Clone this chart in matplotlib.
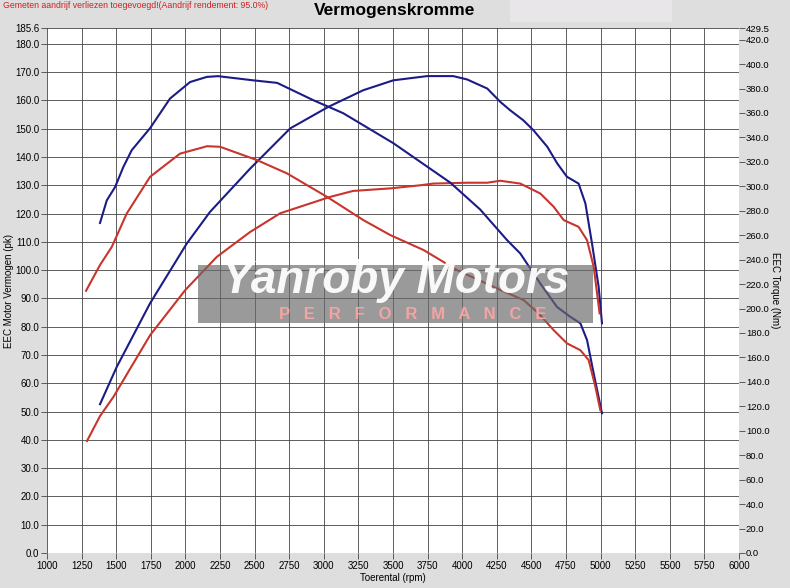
import matplotlib
matplotlib.use("Agg")
import matplotlib.pyplot as plt
from matplotlib.patches import Rectangle

plt.rcParams['font.family'] = ['Liberation Sans', 'DejaVu Sans']

# vermogen (pk), blauw = hoogste curve
rpm_pk_blue = [1383, 1504, 1745, 2010, 2178, 2468, 2757, 3032, 3285, 3502, 3747, 3935,
               4036, 4181, 4275, 4347, 4441, 4514, 4615, 4687, 4757, 4841, 4890, 4938,
               4986, 5010]
pk_blue = [52.6, 65.8, 88.3, 109.4, 120.6, 135.9, 150.1, 157.7, 163.6, 167.1, 168.6, 168.6,
           167.4, 164.2, 159.5, 156.5, 153.0, 149.5, 143.6, 137.7, 133.0, 130.6, 123.6, 109.4,
           94.1, 81.2]

rpm_pk_red = [1289, 1383, 1480, 1745, 1998, 2227, 2468, 2685, 3046, 3212, 3480, 3697,
              3791, 4036, 4181, 4275, 4420, 4564, 4661, 4733, 4841, 4902, 4950, 4993]
pk_red = [39.6, 48.4, 55.2, 77.0, 92.9, 104.7, 113.5, 120.1, 125.9, 128.0, 128.9, 130.0,
          130.6, 130.9, 130.9, 131.6, 130.6, 127.1, 122.4, 117.7, 115.3, 110.6, 101.2, 84.7]

# koppel (Nm)
rpm_nm_blue = [1383, 1432, 1492, 1552, 1612, 1745, 1889, 2034, 2155, 2236, 2489, 2663, 2923,
               3140, 3502, 3697, 3914, 4130, 4324, 4420, 4564, 4685, 4781, 4854, 4902, 4950,
               5010]
nm_blue = [270.0, 288.5, 299.4, 315.9, 329.5, 347.6, 371.8, 385.3, 389.5, 390.1, 386.7, 384.6,
           370.5, 359.8, 335.3, 320.0, 303.0, 281.0, 256.0, 245.0, 220.5, 201.3, 193.2, 187.9,
           174.2, 146.9, 114.3]

rpm_nm_red = [1282, 1383, 1468, 1576, 1745, 1961, 2157, 2251, 2518, 2735, 3024, 3285,
              3480, 3722, 3963, 4252, 4444, 4552, 4661, 4757, 4854, 4914, 4962, 4998]
nm_red = [214.5, 235.6, 250.4, 277.7, 307.8, 326.7, 332.8, 332.3, 321.4, 310.5, 291.3, 272.4,
          260.1, 247.8, 231.4, 216.4, 206.9, 196.0, 182.3, 171.5, 165.9, 157.8, 136.1, 116.9]

x_ticks = list(range(1000, 6001, 250))
left_ticks = [i * 10.0 for i in range(19)] + [185.6]
right_ticks = [i * 20.0 for i in range(22)] + [429.5]

blue = '#1c1c86'
red = '#c8352c'
k = 429.5 / 185.6  # pk-schaal naar Nm-schaal

fig = plt.figure(figsize=(7.9, 5.88), dpi=100, facecolor='#dedede')
ax = fig.add_axes([47 / 790, 35 / 588, 692 / 790, 525 / 588])
ax.set_facecolor('white')
ax2 = ax.twinx()

ax.set_xlim(1000, 6000)
ax.set_ylim(0, 185.6)
ax2.set_ylim(0, 429.5)

ax.set_xticks(x_ticks)
ax.set_yticks(left_ticks)
ax.set_yticklabels(['%.1f' % v for v in left_ticks])
ax2.set_yticks(right_ticks)
ax2.set_yticklabels(['%.1f' % v for v in right_ticks])

ax.grid(True, color='#444444', linewidth=0.6)
ax.set_axisbelow(True)
for a in (ax, ax2):
    for s in a.spines.values():
        s.set_visible(False)
    a.tick_params(labelsize=7, length=4.5, width=0.6, color='#444444', pad=1)
ax2.tick_params(length=4, labelsize=6.8)

ax.plot(rpm_pk_blue, pk_blue, color=blue, lw=1.5, solid_joinstyle='round')
ax.plot(rpm_pk_red, pk_red, color=red, lw=1.5, solid_joinstyle='round')
ax2.plot(rpm_nm_blue, nm_blue, color=blue, lw=1.5, solid_joinstyle='round')
ax2.plot(rpm_nm_red, nm_red, color=red, lw=1.5, solid_joinstyle='round')

ax.set_xlabel('Toerental (rpm)', fontsize=7, labelpad=2)
ax.set_ylabel('EEC Motor Vermogen (pk)', fontsize=7, va='center')
ax.yaxis.set_label_coords(-38 / 692, 0.5)
ax2.set_ylabel('EEC Torque (Nm)', fontsize=7, rotation=-90, va='center')
ax2.yaxis.set_label_coords(1 + 36 / 692, 0.5)

# watermerk
ax2.add_patch(Rectangle((2092, 81.3 * k), 4948 - 2092, 20.5 * k,
                        facecolor='#6a6a6a', alpha=0.68, edgecolor='none', zorder=5))
ax2.text(3520, 96.3 * k, 'Yanroby Motors', color='white', fontsize=33,
         fontweight='bold', fontstyle='italic', ha='center', va='center', zorder=6, alpha=0.95)
ax2.text(3640, 84.2 * k, 'P   E   R   F   O   R   M   A   N   C   E', color='#f4a4a4',
         fontsize=12, fontweight='bold', ha='center', va='center', zorder=6)

fig.patches.append(Rectangle((510 / 790, 1 - 22 / 588), 162 / 790, 22 / 588,
                             transform=fig.transFigure, facecolor='#e8e6e8',
                             edgecolor='none', zorder=0))
fig.text(395 / 790, 1 - 10 / 588, 'Vermogenskromme', fontsize=12.5, fontweight='bold',
         ha='center', va='center')
fig.text(3 / 790, 1 - 6 / 588, 'Gemeten aandrijf verliezen toegevoegd!(Aandrijf rendement: 95.0%)',
         fontsize=6.3, color='#d02020', ha='left', va='center')

fig.savefig('out.png', dpi=100, facecolor=fig.get_facecolor())
